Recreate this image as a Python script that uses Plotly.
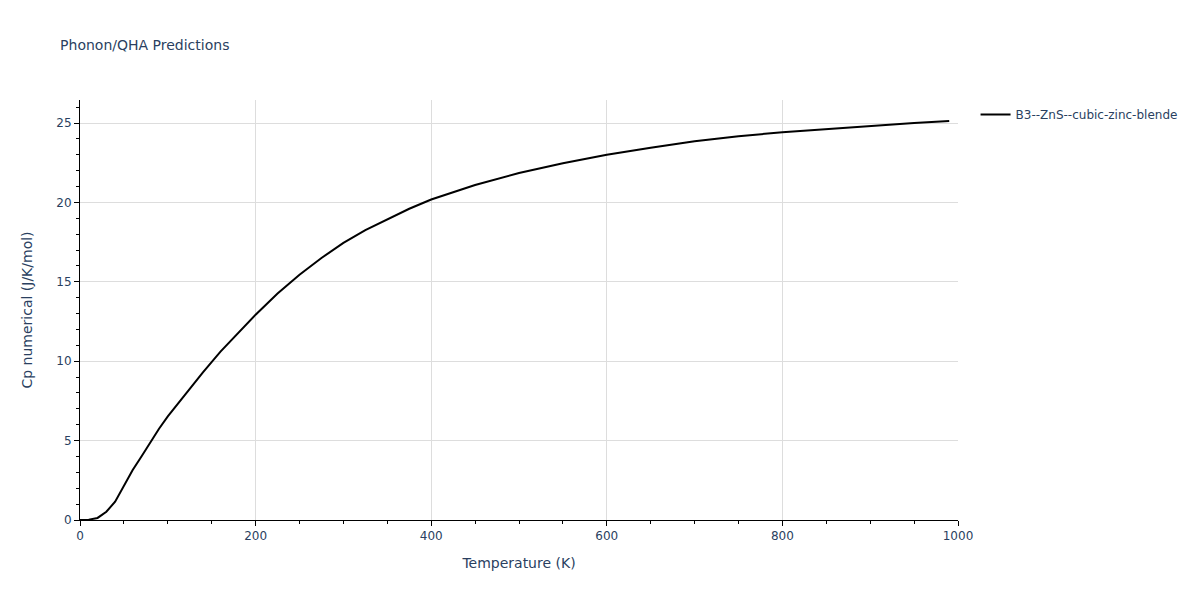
import plotly.graph_objects as go

# temperature (K) and heat capacity
temperature = [0, 10, 20, 30, 40, 50, 60, 70, 80, 90, 100, 120, 140, 160, 180,
               200, 225, 250, 275, 300, 325, 350, 375, 400, 425, 450, 500, 550,
               600, 650, 700, 750, 800, 850, 900, 950, 990]
cp_numerical = [0.0, 0.02, 0.13, 0.52, 1.15, 2.2, 3.15, 4.0, 4.9, 5.75, 6.52,
                7.92, 9.3, 10.6, 11.8, 12.93, 14.26, 15.45, 16.5, 17.45, 18.25,
                18.95, 19.6, 20.18, 20.66, 21.1, 21.85, 22.47, 23.0, 23.45,
                23.85, 24.17, 24.42, 24.62, 24.82, 25.0, 25.13]
series_name = "B3--ZnS--cubic-zinc-blende"

text_color = "#2a3f5f"
font_family = "Verdana, DejaVu Sans, sans-serif"

fig = go.Figure()
fig.add_trace(go.Scatter(x=temperature, y=cp_numerical, mode="lines",
                         name=series_name,
                         line=dict(color="black", width=2)))

axis_style = dict(showline=True, linecolor="black", linewidth=1,
                  ticks="outside", tickcolor="black", ticklen=5,
                  showgrid=True, gridcolor="#dddddd", zeroline=False,
                  tickfont=dict(size=12, color=text_color),
                  title_font=dict(size=14, color=text_color))

# the page body has an 8px margin, so margins are trimmed to keep the plot area in place
fig.update_layout(
    template="none",
    paper_bgcolor="white", plot_bgcolor="white",
    margin=dict(l=72, r=234, t=92, b=72, autoexpand=False),
    title=dict(text="Phonon/QHA Predictions", x=0.044, xanchor="left",
               y=0.9366, yanchor="middle",
               font=dict(size=14, color=text_color)),
    showlegend=True,
    legend=dict(x=1.02, y=1, font=dict(size=12, color=text_color)),
    font=dict(family=font_family, color=text_color),
)
fig.update_xaxes(title_text="Temperature (K)", title_standoff=15,
                 range=[0, 1000], dtick=200,
                 minor=dict(dtick=50, ticks="outside", ticklen=3,
                            tickcolor="black", showgrid=False),
                 **axis_style)
fig.update_yaxes(title_text="Cp numerical (J/K/mol)", title_standoff=20,
                 range=[0, 26.45], dtick=5,
                 minor=dict(dtick=1, ticks="outside", ticklen=3,
                            tickcolor="black", showgrid=False),
                 **axis_style)

fig.write_html("out.html")
